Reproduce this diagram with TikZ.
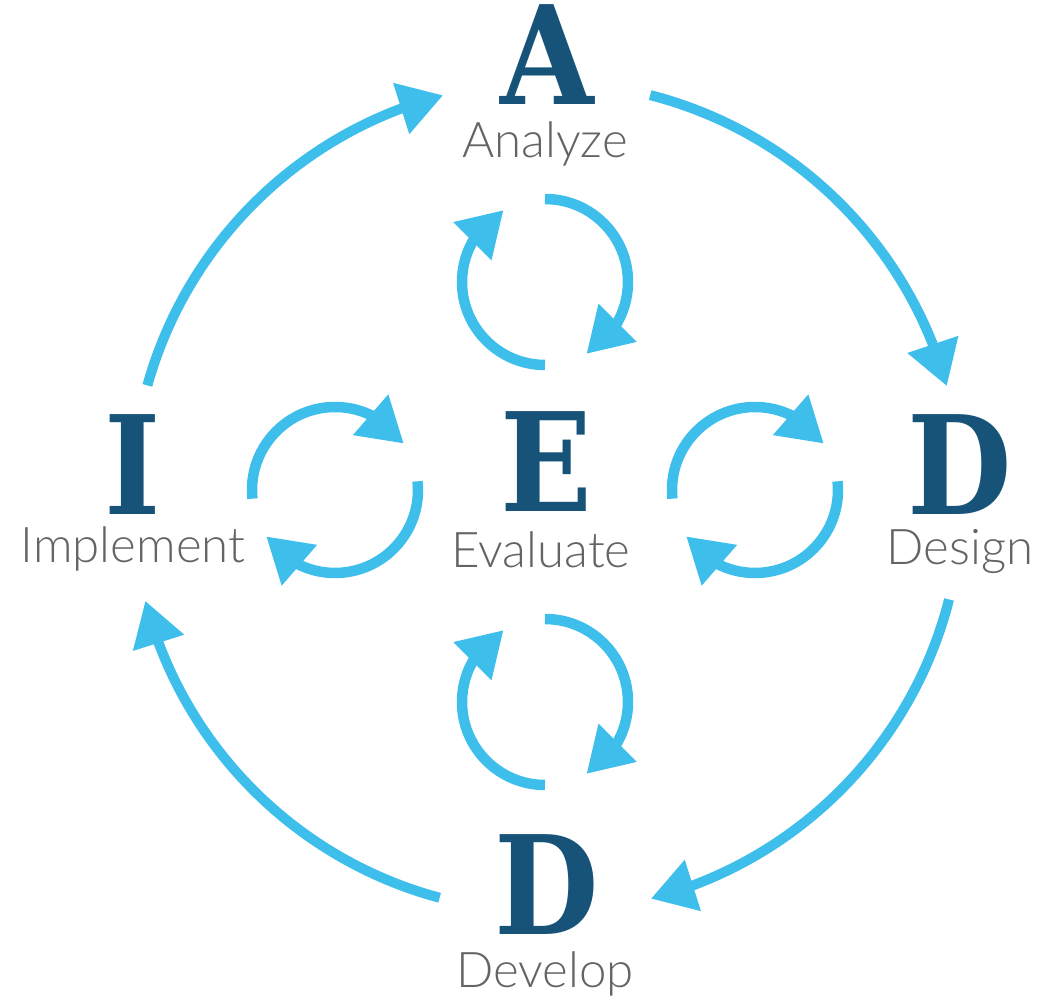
\documentclass[tikz,border=0pt]{standalone}
\usepackage{fontspec}
\usetikzlibrary{arrows.meta,bending}
\newfontfamily\letterfont{DejaVu Serif}[FakeStretch=0.88]
\newfontfamily\labelfont{Lato Light}
\definecolor{cyanarr}{RGB}{62,190,234}
\definecolor{darkletter}{RGB}{23,83,120}
\definecolor{labelgray}{RGB}{100,100,100}
\begin{document}
\begin{tikzpicture}[x=0.02cm,y=0.02cm,
  letter/.style={inner sep=0,anchor=base,text depth=0pt,text=darkletter,font=\letterfont\bfseries\fontsize{78pt}{78pt}\selectfont},
  lab/.style={inner sep=0,anchor=base,text height=0.55cm,text depth=0.05cm,text=labelgray,font=\labelfont\fontsize{28pt}{28pt}\selectfont},
  flow/.style={draw=cyanarr,line width=0.2cm,-{Triangle[length=0.88cm,width=1.02cm,flex]}},
  cyc/.style={flow,line width=0.21cm}]
\useasboundingbox (0,0) rectangle (1038,996);
% centres
\coordinate (O) at (547,499);
\coordinate (CT) at (545,714);
\coordinate (CB) at (545,294);
\coordinate (CL) at (335,506);
\coordinate (CR) at (755,506);
% letters
\node[letter] (A) at (547,891) {A};
\node[letter] (I) at (133,481) {I};
\node[letter] (E) at (546,484) {E};
\node[letter] (D1) at (960,481) {D};
\node[letter] (D2) at (547,61) {D};
% labels
\node[lab] (lA) at (545,838) {Analyze};
\node[lab] (lI) at (133,433) {Implement};
\node[lab] (lE) at (541,428) {Evaluate};
\node[lab] (lD1) at (960,431) {Design};
\node[lab] (lD2) at (545,8) {Develop};
% outer cycle
\draw[flow] ([shift={(164.4:8.3cm)}]O) arc[start angle=164.4,end angle=104.5,radius=8.3cm];
\draw[flow] ([shift={(75.6:8.3cm)}]O) arc[start angle=75.6,end angle=15.5,radius=8.3cm];
\draw[flow] ([shift={(-14.3:8.3cm)}]O) arc[start angle=-14.3,end angle=-75.5,radius=8.3cm];
\draw[flow] ([shift={(-105:8.3cm)}]O) arc[start angle=-105,end angle=-165.5,radius=8.3cm];
% small cycles (top and bottom)
\foreach \c in {CT,CB}{
  \draw[cyc] ([shift={(90:1.66cm)}]\c) arc[start angle=90,end angle=-60,radius=1.66cm];
  \draw[cyc] ([shift={(-90:1.66cm)}]\c) arc[start angle=-90,end angle=-240,radius=1.66cm];
}
% small cycles (left and right)
\foreach \c in {CL,CR}{
  \draw[cyc] ([shift={(186:1.66cm)}]\c) arc[start angle=186,end angle=34,radius=1.66cm];
  \draw[cyc] ([shift={(6:1.66cm)}]\c) arc[start angle=6,end angle=-146,radius=1.66cm];
}
\end{tikzpicture}
\end{document}
